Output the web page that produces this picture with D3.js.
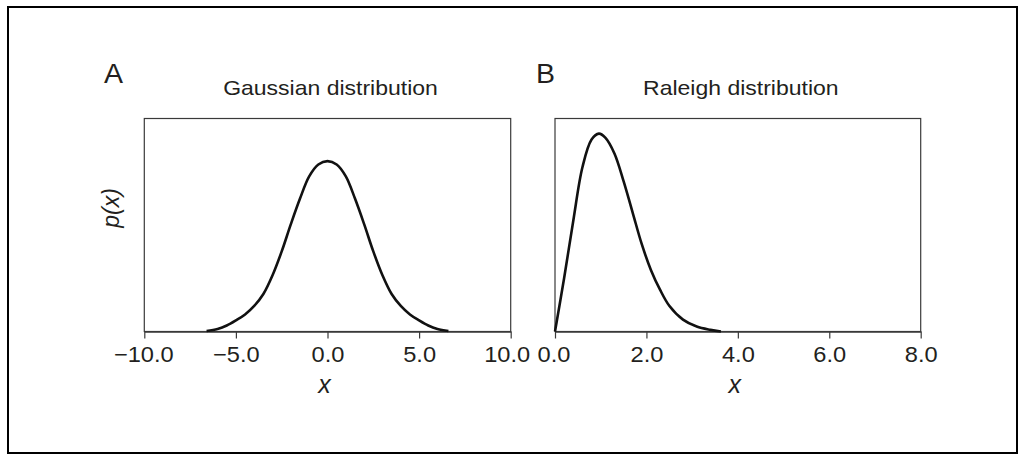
<!DOCTYPE html>
<html><head><meta charset="utf-8">
<script src="https://cdn.jsdelivr.net/npm/d3@7"></script>
<style>
body{margin:0;background:#fff}
svg{display:block}
text{font-family:"Liberation Sans",Arial,Helvetica,sans-serif;fill:#231f20}
</style>
</head><body>
<svg id="chart" width="1020" height="455"></svg>
<script>
// ---- data ----
const gaussX = [-6.6,-6,-5.5,-5,-4.5,-4,-3.5,-3,-2.5,-2,-1.5,-1,-0.5,0,0.5,1,1.5,2,2.5,3,3.5,4,4.5,5,5.5,6,6.6];
const gaussP = [0.0005,0.003,0.007,0.013,0.020,0.030,0.044,0.066,0.094,0.126,0.156,0.182,0.196,0.200,0.196,0.182,0.156,0.126,0.094,0.066,0.044,0.030,0.020,0.013,0.007,0.003,0.0005];
const rayX = [0,0.2,0.4,0.6,0.8,0.96,1.1,1.3,1.5,1.7,1.9,2.1,2.3,2.5,2.8,3.1,3.4,3.63];
const rayP = [0,0.162,0.336,0.498,0.582,0.600,0.588,0.540,0.456,0.360,0.264,0.186,0.126,0.078,0.036,0.015,0.005,0.0];
const gaussTicks = [-10,-5,0,5,10];
const rayTicks = [0,2,4,6,8];
const gaussDomain = [-10,10];
const rayDomain = [0,8];
const gaussYMax = 0.25;
const rayYMax = 0.646;
const panelLetters = ["A","B"];
const panelTitles = ["Gaussian distribution","Raleigh distribution"];
const xLabel = "x";
const yLabel = "p(x)";

// ---- layout ----
const svg = d3.select("#chart");
svg.append("rect").attr("x",0).attr("y",0).attr("width",1020).attr("height",455).attr("fill","#fff");
svg.append("rect").attr("x",8).attr("y",7).attr("width",1009).attr("height",446)
  .attr("fill","none").attr("stroke","#000").attr("stroke-width",2);

const plotTop = 118.5, plotBottom = 331.5;
const panels = [
  {left:144.3, right:510.7, dom:gaussDomain, ticks:gaussTicks, xs:gaussX, ys:gaussP, ymax:gaussYMax, letterX:104, ylab:true, firstShift:-1, lastShift:-4},
  {left:555, right:920.7, dom:rayDomain, ticks:rayTicks, xs:rayX, ys:rayP, ymax:rayYMax, letterX:536, ylab:false, firstShift:-1.5, lastShift:0}
];

panels.forEach((p,i)=>{
  const x = d3.scaleLinear().domain(p.dom).range([p.left,p.right]);
  const y = d3.scaleLinear().domain([0,p.ymax]).range([plotBottom,plotTop]);
  const g = svg.append("g");
  // box
  g.append("rect").attr("x",p.left).attr("y",plotTop).attr("width",p.right-p.left).attr("height",plotBottom-plotTop)
    .attr("fill","none").attr("stroke","#3a3a3a").attr("stroke-width",1.2);
  // axis
  const ax = g.append("g").attr("transform",`translate(0,${plotBottom})`)
    .call(d3.axisBottom(x).tickValues(p.ticks).tickSize(7).tickSizeOuter(0).tickFormat(d3.format(".1f")));
  ax.select(".domain").attr("stroke","#3a3a3a").attr("stroke-width",1.4);
  ax.selectAll(".tick line").attr("stroke","#3a3a3a").attr("stroke-width",1.2);
  const n = p.ticks.length;
  ax.selectAll(".tick text").attr("font-size",21.5).attr("fill","#231f20")
    .attr("font-family",'"Liberation Sans",Arial,sans-serif')
    .attr("y",0).attr("dy",0)
    .attr("transform",(d,k)=>`translate(${k===0?p.firstShift:(k===n-1?p.lastShift:0)},30) scale(1.1,1)`);
  // curve
  const pts = p.xs.map((v,k)=>[v,p.ys[k]]);
  g.append("path").datum(pts)
    .attr("fill","none").attr("stroke","#111").attr("stroke-width",2.6).attr("stroke-linejoin","round")
    .attr("d", d3.line().x(d=>x(d[0])).y(d=>y(d[1])).curve(d3.curveCatmullRom.alpha(0.5)));
  // x label
  g.append("text").attr("transform",`translate(${(p.left+p.right)/2 - 3},393)`)
    .attr("text-anchor","middle").attr("font-size",25).attr("font-style","italic").text(xLabel);
  // title
  g.append("text").attr("transform",`translate(${(p.left+p.right)/2 + 3},94.5) scale(1.15,1)`)
    .attr("text-anchor","middle").attr("font-size",20).text(panelTitles[i]);
  // letter
  g.append("text").attr("x",p.letterX).attr("y",82.5).attr("font-size",28.5).text(panelLetters[i]);
  if(p.ylab){
    g.append("text").attr("transform",`translate(119,${(plotTop+plotBottom)/2 - 17}) rotate(-90)`)
      .attr("text-anchor","middle").attr("font-size",23).attr("font-style","italic").text(yLabel);
  }
});
</script>
</body></html>
